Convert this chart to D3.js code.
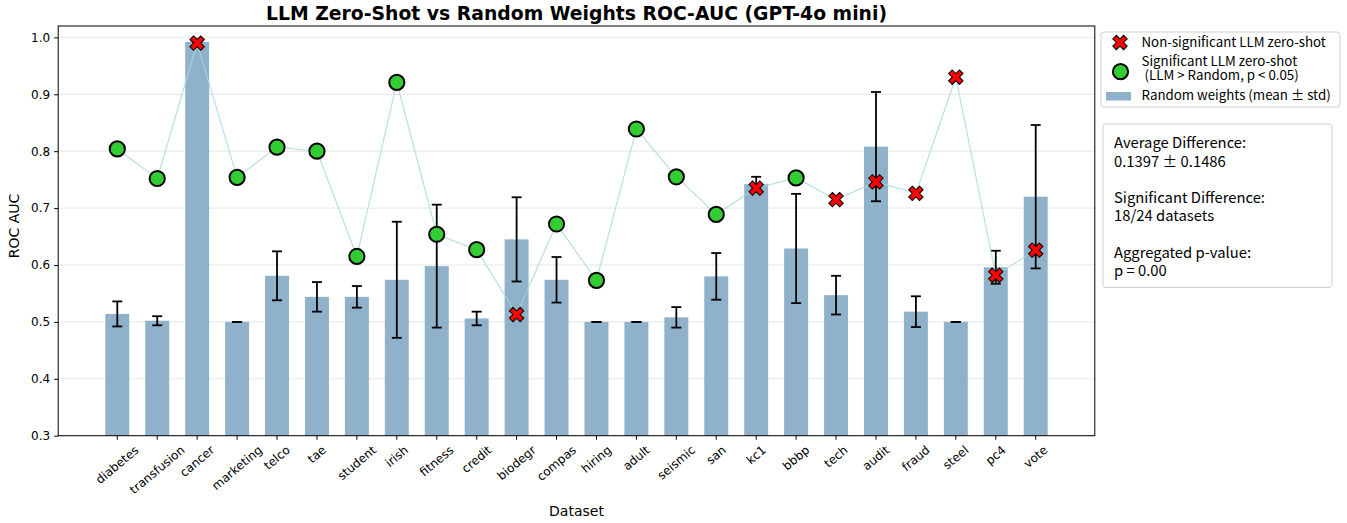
<!DOCTYPE html>
<html>
<head>
<meta charset="utf-8">
<script src="https://cdn.jsdelivr.net/npm/d3@7"></script>
<style>
  body { margin: 0; background: #fff; }
</style>
</head>
<body>
<div id="chart"></div>
<script>
// datasets in plotting order
var datasets = ["diabetes", "transfusion", "cancer", "marketing", "telco", "tae", "student", "irish",
  "fitness", "credit", "biodegr", "compas", "hiring", "adult", "seismic", "san", "kc1", "bbbp",
  "tech", "audit", "fraud", "steel", "pc4", "vote"];

// random weights baseline (mean and std of ROC AUC)
var randomMean = [0.514, 0.502, 0.992, 0.500, 0.581, 0.544, 0.544, 0.574, 0.598, 0.506, 0.645, 0.574,
  0.500, 0.500, 0.508, 0.580, 0.742, 0.629, 0.547, 0.808, 0.518, 0.500, 0.596, 0.720];
var randomStd = [0.022, 0.008, 0.000, 0.000, 0.043, 0.026, 0.019, 0.102, 0.108, 0.012, 0.074, 0.040,
  0.000, 0.000, 0.018, 0.041, 0.013, 0.096, 0.034, 0.096, 0.027, 0.000, 0.029, 0.126];

// LLM zero-shot ROC AUC
var llmScore = [0.804, 0.752, 0.990, 0.754, 0.807, 0.800, 0.615, 0.921, 0.654, 0.627, 0.513, 0.672,
  0.573, 0.839, 0.755, 0.689, 0.735, 0.753, 0.715, 0.746, 0.726, 0.930, 0.582, 0.626];
var significant = [true, true, false, true, true, true, true, true, true, true, false, true,
  true, true, true, true, false, true, false, false, false, false, false, false];

var yTicks = [0.3, 0.4, 0.5, 0.6, 0.7, 0.8, 0.9, 1.0];

var statsLines = ["Average Difference:", "0.1397 \u00b1 0.1486", "",
  "Significant Difference:", "18/24 datasets", "",
  "Aggregated p-value:", "p = 0.00"];

var width = 1347, height = 523;
var plot = { left: 58.2, right: 1094.8, top: 26, bottom: 435.7 };
var mainFont = "'DejaVu Sans', sans-serif";
var boxFont = "'Noto Sans CJK JP', 'Noto Sans', sans-serif";

var svg = d3.select("#chart").append("svg")
  .attr("width", width)
  .attr("height", height);

var x = d3.scaleBand()
  .domain(datasets)
  .range([plot.left, plot.right])
  .paddingInner(0.4)
  .paddingOuter(1.18);

var y = d3.scaleLinear().domain([0.3, 1.02]).range([plot.bottom, plot.top]);

var cx = function(d) { return x(d) + x.bandwidth() / 2; };

// grid lines
svg.append("g").selectAll("line")
  .data(yTicks)
  .enter().append("line")
  .attr("x1", plot.left).attr("x2", plot.right)
  .attr("y1", function(d) { return y(d); })
  .attr("y2", function(d) { return y(d); })
  .attr("stroke", "#e6e6e6")
  .attr("stroke-width", 1);

// bars
svg.append("g").selectAll("rect")
  .data(datasets)
  .enter().append("rect")
  .attr("x", function(d) { return x(d); })
  .attr("width", x.bandwidth())
  .attr("y", function(d, i) { return y(randomMean[i]); })
  .attr("height", function(d, i) { return plot.bottom - y(randomMean[i]); })
  .attr("fill", "#8fb2ca");

// error bars
var err = svg.append("g").attr("stroke", "#000").attr("stroke-width", 1.8);
datasets.forEach(function(d, i) {
  var lo = y(randomMean[i] - randomStd[i]), hi = y(randomMean[i] + randomStd[i]);
  var c = cx(d);
  err.append("line").attr("x1", c).attr("x2", c).attr("y1", lo).attr("y2", hi);
  err.append("line").attr("x1", c - 5).attr("x2", c + 5).attr("y1", lo).attr("y2", lo);
  err.append("line").attr("x1", c - 5).attr("x2", c + 5).attr("y1", hi).attr("y2", hi);
});

// connecting line for the LLM scores
var line = d3.line()
  .x(function(d) { return cx(d); })
  .y(function(d, i) { return y(llmScore[i]); });

svg.append("path")
  .datum(datasets)
  .attr("d", line)
  .attr("fill", "none")
  .attr("stroke", "#a6d9d6")
  .attr("stroke-opacity", 0.8)
  .attr("stroke-width", 1.2);

var xSymbol = d3.symbol().type(d3.symbolCross).size(130);

// markers
datasets.forEach(function(d, i) {
  if (significant[i]) {
    svg.append("circle")
      .attr("cx", cx(d)).attr("cy", y(llmScore[i]))
      .attr("r", 7.6)
      .attr("fill", "#32cd32")
      .attr("stroke", "#000")
      .attr("stroke-width", 2);
  } else {
    svg.append("path")
      .attr("d", xSymbol())
      .attr("transform", "translate(" + cx(d) + "," + y(llmScore[i]) + ") rotate(45)")
      .attr("fill", "#ff0000")
      .attr("stroke", "#000")
      .attr("stroke-width", 1);
  }
});

// frame
svg.append("rect")
  .attr("x", plot.left).attr("y", plot.top)
  .attr("width", plot.right - plot.left).attr("height", plot.bottom - plot.top)
  .attr("fill", "none").attr("stroke", "#000").attr("stroke-width", 1);

// y axis
var yAxis = svg.append("g")
  .attr("transform", "translate(" + plot.left + ",0)")
  .call(d3.axisLeft(y).tickValues(yTicks).tickFormat(d3.format(".1f")).tickSize(4).tickPadding(4));
yAxis.select(".domain").remove();
yAxis.selectAll("text")
  .style("font-family", mainFont)
  .style("font-size", "12px")
  .attr("fill", "#000");
yAxis.selectAll("line").attr("stroke", "#000");

// x axis
var xAxis = svg.append("g")
  .attr("transform", "translate(0," + plot.bottom + ")")
  .call(d3.axisBottom(x).tickSize(4).tickFormat(""));
xAxis.select(".domain").remove();
xAxis.selectAll("line").attr("stroke", "#000");

// rotated x tick labels, centered under the tick
var rot = 40 * Math.PI / 180;
svg.append("g").selectAll("text")
  .data(datasets)
  .enter().append("text")
  .text(function(d) { return d; })
  .attr("text-anchor", "middle")
  .attr("dominant-baseline", "central")
  .style("font-family", mainFont)
  .style("font-size", "12px")
  .attr("transform", function(d) {
    var w = this.getComputedTextLength();
    var h = 12;
    var bh = w * Math.sin(rot) + h * Math.cos(rot);
    return "translate(" + cx(d) + "," + (plot.bottom + 8 + bh / 2) + ") rotate(-40)";
  });

// axis titles
svg.append("text")
  .attr("x", (plot.left + plot.right) / 2).attr("y", 516)
  .attr("text-anchor", "middle")
  .style("font-family", mainFont)
  .style("font-size", "14px")
  .text("Dataset");

svg.append("text")
  .attr("transform", "translate(19,226) rotate(-90)")
  .attr("text-anchor", "middle")
  .style("font-family", mainFont)
  .style("font-size", "14px")
  .text("ROC AUC");

svg.append("text")
  .attr("x", (plot.left + plot.right) / 2).attr("y", 19.5)
  .attr("text-anchor", "middle")
  .style("font-family", mainFont)
  .style("font-size", "18.8px")
  .style("font-weight", "bold")
  .text("LLM Zero-Shot vs Random Weights ROC-AUC (GPT-4o mini)");

// legend
var legend = svg.append("g");
legend.append("rect")
  .attr("x", 1101).attr("y", 32).attr("width", 239).attr("height", 75)
  .attr("rx", 3)
  .attr("fill", "#fff").attr("stroke", "#d0d0d0");
legend.append("path")
  .attr("d", xSymbol())
  .attr("transform", "translate(1120,42.5) rotate(45)")
  .attr("fill", "#ff0000").attr("stroke", "#000").attr("stroke-width", 1);
legend.append("circle")
  .attr("cx", 1120.5).attr("cy", 71.7).attr("r", 7.6)
  .attr("fill", "#32cd32").attr("stroke", "#000").attr("stroke-width", 2);
legend.append("rect")
  .attr("x", 1106).attr("y", 92).attr("width", 25).attr("height", 8.5)
  .attr("fill", "#8fb2ca");
var legendText = [
  ["Non-significant LLM zero-shot", 46.7],
  ["Significant LLM zero-shot", 65.5],
  ["\u00a0(LLM > Random, p < 0.05)", 80.2],
  ["Random weights (mean \u00b1 std)", 100.2]
];
legend.selectAll("text.lg")
  .data(legendText)
  .enter().append("text")
  .attr("class", "lg")
  .attr("x", 1141.5)
  .attr("y", function(d) { return d[1]; })
  .style("font-family", boxFont)
  .style("font-size", "13.3px")
  .text(function(d) { return d[0]; });

// statistics box
var stats = svg.append("g");
stats.append("rect")
  .attr("x", 1103).attr("y", 124).attr("width", 229).attr("height", 163.5)
  .attr("rx", 3)
  .attr("fill", "#fff").attr("stroke", "#d0d0d0");
stats.selectAll("text")
  .data(statsLines)
  .enter().append("text")
  .attr("x", 1114)
  .attr("y", function(d, i) { return 148.3 + i * 18.2; })
  .style("font-family", boxFont)
  .style("font-size", "14.8px")
  .text(function(d) { return d; });
</script>
</body>
</html>
